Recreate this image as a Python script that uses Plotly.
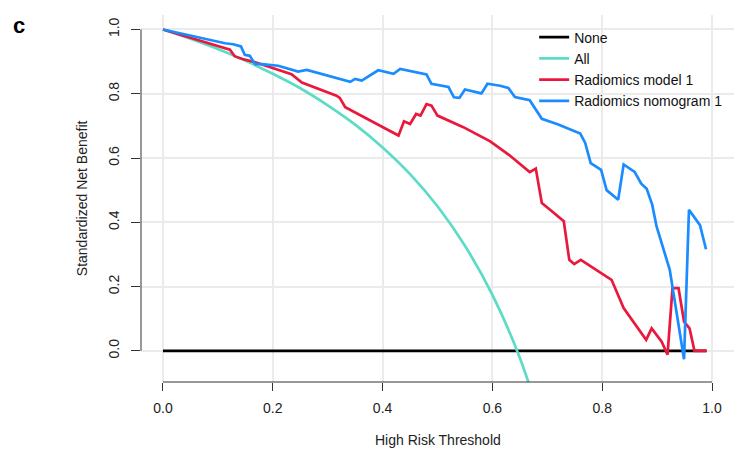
import plotly.graph_objects as go

FONT = "Liberation Sans, Arial, sans-serif"

# Threshold grid for the "All" strategy curve
all_x = [0.0, 0.05, 0.10, 0.15, 0.20, 0.25, 0.30, 0.35, 0.40, 0.45, 0.50, 0.55, 0.60, 0.65, 0.70]
all_y = [1.0, 0.971, 0.939, 0.903, 0.862, 0.817, 0.764, 0.704, 0.633, 0.550, 0.450, 0.327, 0.174, -0.022, -0.284]

none_x = [0.0, 0.99]
none_y = [0.0, 0.0]

model_x = [0.0, 0.122, 0.131, 0.149, 0.168, 0.234, 0.253, 0.316, 0.322, 0.332, 0.429, 0.439, 0.45,
           0.461, 0.469, 0.48, 0.489, 0.5, 0.547, 0.596, 0.63, 0.668, 0.679, 0.69, 0.705, 0.723,
           0.73, 0.74, 0.749, 0.761, 0.817, 0.839, 0.88, 0.89, 0.908, 0.919, 0.928, 0.939, 0.949,
           0.959, 0.968, 0.99]
model_y = [1.0, 0.937, 0.916, 0.906, 0.898, 0.861, 0.835, 0.794, 0.787, 0.758, 0.67, 0.714, 0.706,
           0.737, 0.732, 0.768, 0.763, 0.732, 0.696, 0.652, 0.610, 0.556, 0.567, 0.46, 0.439, 0.413,
           0.403, 0.283, 0.27, 0.283, 0.221, 0.133, 0.034, 0.07, 0.029, -0.012, 0.195, 0.195, 0.091,
           0.07, 0.0, 0.0]

nomo_x = [0.0, 0.113, 0.128, 0.142, 0.149, 0.158, 0.168, 0.18, 0.21, 0.246, 0.262, 0.304, 0.341,
          0.35, 0.362, 0.392, 0.42, 0.432, 0.48, 0.489, 0.52, 0.53, 0.54, 0.55, 0.58, 0.591, 0.614,
          0.629, 0.641, 0.668, 0.69, 0.72, 0.76, 0.769, 0.779, 0.798, 0.808, 0.829, 0.839, 0.859,
          0.871, 0.881, 0.891, 0.899, 0.923, 0.949, 0.958, 0.978, 0.989]
nomo_y = [1.0, 0.957, 0.954, 0.947, 0.921, 0.918, 0.892, 0.892, 0.887, 0.869, 0.874, 0.855, 0.837,
          0.846, 0.841, 0.873, 0.862, 0.877, 0.86, 0.831, 0.821, 0.789, 0.787, 0.813, 0.801, 0.831,
          0.825, 0.818, 0.79, 0.78, 0.722, 0.704, 0.676, 0.647, 0.584, 0.563, 0.5, 0.47, 0.58, 0.557,
          0.52, 0.504, 0.455, 0.387, 0.252, -0.026, 0.439, 0.391, 0.316]

tick_vals = [0.0, 0.2, 0.4, 0.6, 0.8, 1.0]
tick_text = ["0.0", "0.2", "0.4", "0.6", "0.8", "1.0"]

fig = go.Figure()
fig.add_trace(go.Scatter(x=none_x, y=none_y, mode="lines", name="None",
                         line=dict(color="#000000", width=2.7)))
fig.add_trace(go.Scatter(x=all_x, y=all_y, mode="lines", name="All",
                         line=dict(color="#5CDCC6", width=2.7, shape="spline")))
fig.add_trace(go.Scatter(x=model_x, y=model_y, mode="lines", name="Radiomics model 1",
                         line=dict(color="#E8193C", width=2.7)))
fig.add_trace(go.Scatter(x=nomo_x, y=nomo_y, mode="lines", name="Radiomics nomogram 1",
                         line=dict(color="#1A8CFF", width=2.7)))

grid = "#EBEBEB"
fig.update_xaxes(range=[-0.04, 1.04], tickvals=tick_vals, ticktext=tick_text,
                 showgrid=True, gridcolor=grid, gridwidth=2, zeroline=False, showline=False,
                 ticks="outside", ticklen=8, tickcolor="#333333", tickwidth=1,
                 tickfont=dict(family=FONT, size=14, color="#222222"), ticklabelstandoff=5)
fig.update_yaxes(range=[-0.097, 1.045], tickvals=tick_vals, ticktext=tick_text,
                 showgrid=True, gridcolor=grid, gridwidth=2, zeroline=False, showline=False,
                 ticks="outside", ticklen=9, tickcolor="#333333", tickwidth=1, tickangle=-90,
                 tickfont=dict(family=FONT, size=14, color="#222222"), ticklabelstandoff=6)

# axis lines spanning only 0..1 (base-graphics style)
fig.add_shape(type="line", xref="x", yref="paper", x0=0, x1=1, y0=0, y1=0,
              line=dict(color="#333333", width=1))
fig.add_shape(type="line", xref="paper", yref="y", x0=0, x1=0, y0=0, y1=1,
              line=dict(color="#333333", width=1))

fig.add_annotation(text="High Risk Threshold", xref="x", yref="paper", x=0.5, y=-0.158,
                   xanchor="center", yanchor="middle", showarrow=False,
                   font=dict(family=FONT, size=14, color="#222222"))
fig.add_annotation(text="Standardized Net Benefit", xref="paper", yref="paper", x=-0.10, y=0.5,
                   xanchor="center", yanchor="middle", showarrow=False, textangle=-90,
                   font=dict(family=FONT, size=14, color="#222222"))
fig.add_annotation(text="<b>c</b>", xref="paper", yref="paper", x=-0.22, y=0.971,
                   xanchor="left", yanchor="middle", showarrow=False,
                   font=dict(family=FONT, size=22, color="#000000"))

fig.update_layout(
    width=739, height=454,
    margin=dict(l=141, r=5, t=15, b=72),
    plot_bgcolor="white", paper_bgcolor="white",
    showlegend=True,
    legend=dict(x=0.663, y=0.982, xanchor="left", yanchor="top",
                bgcolor="rgba(0,0,0,0)", font=dict(family=FONT, size=14, color="#111111"),
                itemwidth=30, tracegroupgap=0),
)

fig.write_html("out.html")
